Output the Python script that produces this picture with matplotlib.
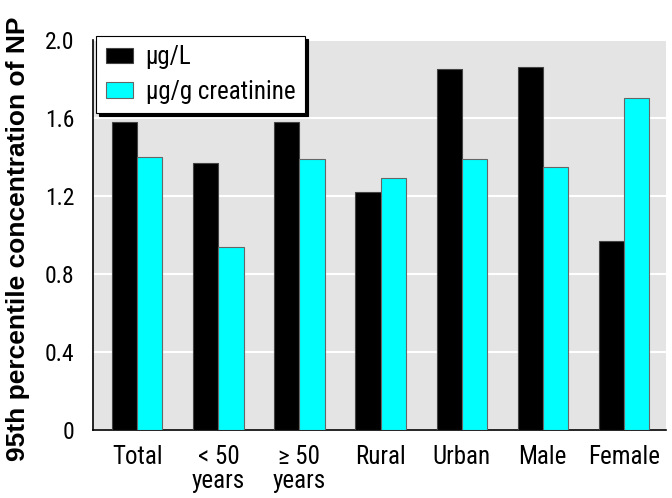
import matplotlib.pyplot as plt
import numpy as np

categories = ['Total', '< 50\nyears', '\u2265 50\nyears', 'Rural', 'Urban', 'Male', 'Female']
ug_per_l = [1.58, 1.37, 1.58, 1.22, 1.85, 1.86, 0.97]
ug_per_g_creat = [1.40, 0.94, 1.39, 1.29, 1.39, 1.35, 1.70]

plt.rcParams['font.family'] = ['Roboto Condensed', 'DejaVu Sans']

x = np.arange(len(categories))
bar_width = 0.31

fig = plt.figure(figsize=(6.72, 4.98), dpi=100)
ax = fig.add_axes([0.138, 0.1365, 0.853, 0.7835])
ax.set_facecolor('#e4e4e4')

ax.bar(x - bar_width / 2, ug_per_l, bar_width, color='black', edgecolor='#444444',
       linewidth=0.8, label='\u03bcg/L', zorder=3)
ax.bar(x + bar_width / 2, ug_per_g_creat, bar_width, color='#00ffff', edgecolor='#666666',
       linewidth=0.8, label='\u03bcg/g creatinine', zorder=3)

ax.set_xlim(-0.55, 6.52)
ax.set_ylim(0, 2.0)
ax.set_yticks([0, 0.4, 0.8, 1.2, 1.6, 2.0])
ax.set_yticklabels(['0', '0.4', '0.8', '1.2', '1.6', '2.0'])
ax.set_xticks(x)
ax.set_xticklabels(categories, linespacing=1.0)
ax.tick_params(axis='x', length=0, labelsize=18, pad=11)
ax.tick_params(axis='y', length=0, labelsize=17, pad=13)

ax.grid(axis='y', color='white', linewidth=1.5, zorder=1)
ax.set_axisbelow(True)

for side in ['top', 'right']:
    ax.spines[side].set_visible(False)
ax.spines['left'].set_linewidth(1.2)
ax.spines['bottom'].set_linewidth(1.2)

ax.set_ylabel('95th percentile concentration of NP', fontsize=19, fontweight='bold',
              family=['Liberation Sans', 'DejaVu Sans'])
ax.yaxis.set_label_coords(-0.11, 0.49)

leg = ax.legend(loc='upper left', bbox_to_anchor=(0.006, 1.01), borderaxespad=0, fontsize=18,
                frameon=True, fancybox=False, edgecolor='black', framealpha=1,
                shadow={'color': 'black', 'alpha': 1}, borderpad=0.38,
                handlelength=1.1, handleheight=0.56, handletextpad=0.5, labelspacing=0.42)
leg.get_frame().set_linewidth(0.8)
leg.set_zorder(5)

plt.savefig('out.png', dpi=100)
